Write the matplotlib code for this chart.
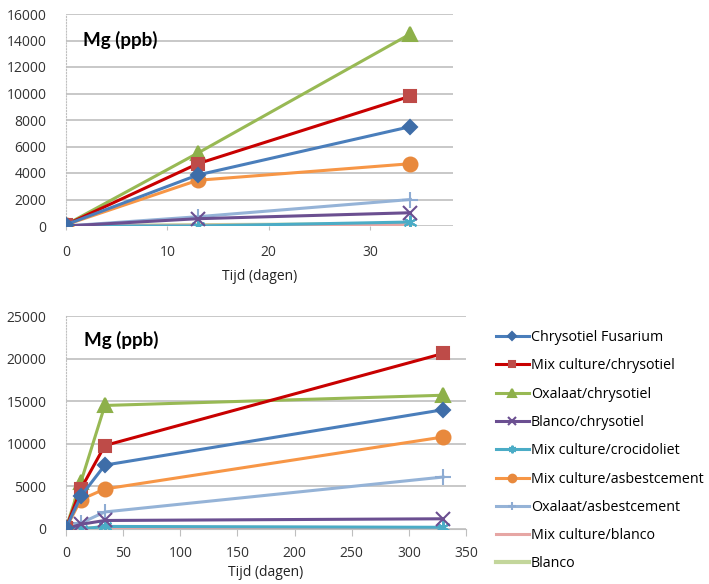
import numpy as np
import matplotlib.pyplot as plt

plt.rcParams['font.family'] = ['Open Sans', 'DejaVu Sans']

# series names (legend order)
names = ["Chrysotiel Fusarium", "Mix culture/chrysotiel", "Oxalaat/chrysotiel",
         "Blanco/chrysotiel", "Mix culture/crocidoliet", "Mix culture/asbestcement",
         "Oxalaat/asbestcement", "Mix culture/blanco", "Blanco"]

# top chart: first 34 days
days_short = [0, 13, 34]
mg_short = [
    [100, 3850, 7500],
    [100, 4700, 9800],
    [100, 5500, 14500],
    [0, 550, 1000],
    [0, 0, 300],
    [100, 3450, 4700],
    [0, 700, 2000],
    [0, 50, 120],
    [0, 60, 150],
]

# bottom chart: up to 330 days
days_long = [0, 13, 34, 330]
mg_long = [
    [100, 3850, 7500, 14000],
    [100, 4700, 9800, 20600],
    [100, 5500, 14500, 15700],
    [0, 550, 1000, 1200],
    [0, 0, 300, 200],
    [100, 3450, 4700, 10800],
    [0, 700, 2000, 6100],
    [0, 50, 120, 100],
    [0, 60, 150, 100],
]

line_cols = ['#4A7EBB', '#C80000', '#98B954', '#6B4F91', '#4BACC6',
             '#F79646', '#95B3D7', '#E6A6A4', '#C3D69B']
mark_cols = ['#3E6DA8', '#BE4B48', '#8DB04A', '#6B4F91', '#4BACC6',
             '#E8893D', '#8EACD3', '#E6A6A4', '#C3D69B']
markers = ['D', 's', '^', 'x', (6, 2, 0), 'o', '+', 'None', 'None']
msizes = [7, 9, 10, 10, 10, 10, 11, 0, 0]
widths = [2.2, 2.2, 2.2, 2.2, 2.2, 2.2, 2.2, 2.2, 3.0]

fig = plt.figure(figsize=(7.09, 5.84), dpi=100)
ax1 = fig.add_axes([66/709, 1-226/584, (453-66)/709, (226-14)/584])
ax2 = fig.add_axes([66/709, 1-529/584, (466-66)/709, (529-316)/584])


def draw(ax, x, ys, title_y):
    lines = []
    for i in range(len(names)):
        ln, = ax.plot(x, ys[i], color=line_cols[i], lw=widths[i],
                      marker=markers[i], markersize=msizes[i],
                      markerfacecolor=mark_cols[i], markeredgecolor=mark_cols[i],
                      markeredgewidth=1.5, label=names[i], zorder=3 + (8 - i) * 0.01)
        lines.append(ln)
    ax.grid(axis='y', color='#BFBFBF', lw=1.2)
    ax.set_axisbelow(True)
    for s in ['top', 'right']:
        ax.spines[s].set_visible(False)
    ax.spines['left'].set_color('#BFBFBF')
    ax.spines['left'].set_linestyle(':')
    ax.tick_params(axis='y', length=0, pad=14, labelsize=10, labelcolor='#333333')
    ax.tick_params(axis='x', labelsize=10, labelcolor='#333333', color='#BFBFBF')
    ax.set_xlabel("Tijd (dagen)", fontsize=10, color='#222222')
    ax.text(0.045, title_y, "Mg (ppb)", transform=ax.transAxes, family='Lato',
            fontsize=13.5, fontweight='bold', va='center', ha='left')
    return lines


draw(ax1, days_short, mg_short, 0.877)
ax1.set_xlim(0, 38.2)
ax1.set_ylim(0, 16000)
ax1.set_xticks([0, 10, 20, 30])
ax1.set_yticks(np.arange(0, 16001, 2000))
ax1.spines['bottom'].set_visible(False)
ax1.tick_params(axis='x', length=3, pad=11)
ax1.xaxis.labelpad = 6

lines = draw(ax2, days_long, mg_long, 0.887)
ax2.set_xlim(0, 350)
ax2.set_ylim(0, 25000)
ax2.set_xticks(np.arange(0, 351, 50))
ax2.set_yticks(np.arange(0, 25001, 5000))
ax2.spines['bottom'].set_color('#BFBFBF')
ax2.tick_params(axis='x', length=5, pad=7)
ax2.xaxis.labelpad = 3

fig.legend(handles=lines, loc='upper left', bbox_to_anchor=(496/709, 1-330/584),
           frameon=False, fontsize=10.3, handlelength=2.3, handletextpad=0.15,
           labelspacing=0.93, markerscale=0.55, borderaxespad=0, borderpad=0)

plt.savefig("out.png", dpi=100)
